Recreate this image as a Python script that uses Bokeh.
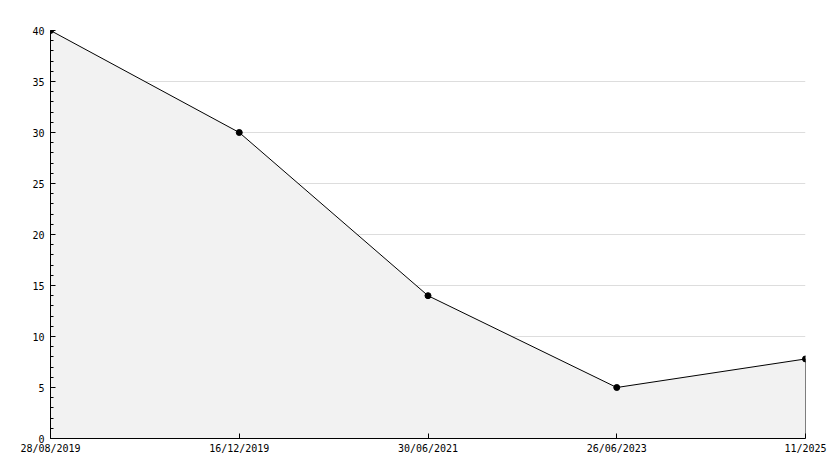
from bokeh.plotting import figure
from bokeh.models import Range1d, FixedTicker
from bokeh.embed import file_html
from bokeh.resources import INLINE

labels = ["28/08/2019", "16/12/2019", "30/06/2021", "26/06/2023", "11/2025"]
values = [40, 30, 14, 5, 7.8]
y_ticks = [0, 5, 10, 15, 20, 25, 30, 35, 40]

xs = list(range(len(labels)))

p = figure(width=834, height=468, output_backend="svg", toolbar_location=None,
           x_range=Range1d(0, len(labels) - 1), y_range=Range1d(0, 40),
           min_border_left=50, min_border_right=29, min_border_top=30, min_border_bottom=30)
p.outline_line_color = None
p.background_fill_color = "white"
p.border_fill_color = "white"

p.varea(x=xs, y1=[0] * len(xs), y2=values, fill_color="#f2f2f2")
p.line(xs, values, line_color="black", line_width=1)
p.segment(x0=[xs[-1]], y0=[0], x1=[xs[-1]], y1=[values[-1]], line_color="black", line_width=1)
p.scatter(xs, values, size=6, color="black", marker="circle")

p.xgrid.visible = False
p.ygrid.grid_line_color = "#dddddd"
p.ygrid.ticker = FixedTicker(ticks=y_ticks)

font = "DejaVu Sans Mono"
xa = p.xaxis[0]
xa.ticker = FixedTicker(ticks=xs)
xa.major_label_overrides = {i: l for i, l in zip(xs, labels)}
xa.major_tick_in = 5
xa.major_tick_out = 0
xa.minor_tick_line_color = None
xa.axis_line_color = "black"
xa.major_label_text_font = font
xa.major_label_text_font_size = "10px"
xa.major_label_text_color = "black"
xa.major_label_standoff = 4

ya = p.yaxis[0]
ya.ticker = FixedTicker(ticks=y_ticks, minor_ticks=list(range(0, 41)))
ya.major_tick_in = 5
ya.major_tick_out = 0
ya.minor_tick_in = 3
ya.minor_tick_out = 0
ya.axis_line_color = "black"
ya.major_label_text_font = font
ya.major_label_text_font_size = "10px"
ya.major_label_text_color = "black"
ya.major_label_standoff = 6

open("out.html", "w").write(file_html(p, INLINE))
